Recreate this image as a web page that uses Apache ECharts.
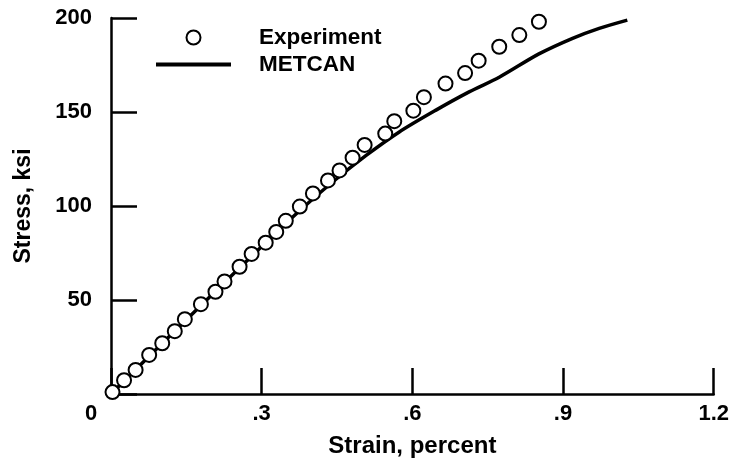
<!DOCTYPE html>
<html>
<head>
<meta charset="utf-8">
<script src="https://cdn.jsdelivr.net/npm/echarts@6/dist/echarts.min.js"></script>
<style>
html,body{margin:0;padding:0;background:#fff;}
#chart{width:732px;height:466px;}
</style>
</head>
<body>
<div id="chart"></div>
<script>
// Experiment data (strain %, stress ksi)
var expStrain = [0.003, 0.026, 0.049, 0.076, 0.102, 0.127, 0.147, 0.179, 0.208, 0.226, 0.256, 0.280, 0.308, 0.329, 0.348, 0.376, 0.402, 0.432, 0.455, 0.481, 0.505, 0.546, 0.564, 0.602, 0.623, 0.666, 0.705, 0.732, 0.773, 0.813, 0.852];
var expStress = [1, 7.3, 12.8, 20.8, 27.0, 33.4, 39.8, 47.8, 54.4, 59.9, 67.7, 74.5, 80.5, 86.2, 92.1, 99.7, 106.7, 113.6, 118.9, 125.7, 132.5, 138.5, 145.1, 150.7, 157.9, 165.1, 170.7, 177.3, 184.7, 190.9, 198.0];
// METCAN prediction
var metStrain = [0, 0.15, 0.30, 0.376, 0.44, 0.508, 0.574, 0.647, 0.713, 0.773, 0.852, 0.919, 0.972, 1.028];
var metStress = [0, 39.5, 78.5, 97.6, 112.5, 126.9, 139.4, 151.0, 160.7, 168.5, 180.9, 189.2, 194.5, 198.9];
// Axis ticks
var xTicks = [0, 0.3, 0.6, 0.9, 1.2];
var xTickLabels = ['0', '.3', '.6', '.9', '1.2'];
var yTicks = [0, 50, 100, 150, 200];
var yTickLabels = ['', '50', '100', '150', '200'];

var FONT = '"Liberation Sans", Arial, Helvetica, sans-serif';

function zip(a, b) { return a.map(function (v, i) { return [v, b[i]]; }); }
function lookup(ticks, labels, v) {
  for (var i = 0; i < ticks.length; i++) if (Math.abs(ticks[i] - v) < 1e-6) return labels[i];
  return '';
}

var chart = echarts.init(document.getElementById('chart'), null, {renderer: 'canvas'});
chart.setOption({
  animation: false,
  backgroundColor: '#fff',
  grid: {left: 111, right: 17, top: 18, bottom: 72, containLabel: false},
  legend: {
    orient: 'vertical',
    left: 151, top: 21,
    itemWidth: 75, itemHeight: 14, itemGap: 4,
    symbolKeepAspect: true,
    textStyle: {fontFamily: FONT, fontWeight: 'bold', fontSize: 22.5, color: '#000', padding: [0, 0, 0, 23]},
    data: [
      {name: 'Experiment'},
      {name: 'METCAN', icon: 'path://M0,0 L75,0 L75,4 L0,4 Z', itemStyle: {color: '#000'}}
    ]
  },
  xAxis: {
    type: 'value', min: 0, max: 1.2, interval: 0.3,
    name: 'Strain, percent', nameLocation: 'middle', nameGap: 40,
    nameTextStyle: {fontFamily: FONT, fontWeight: 'bold', fontSize: 24, color: '#000'},
    axisLine: {show: true, onZero: false, lineStyle: {color: '#000', width: 2.5}},
    axisTick: {show: true, inside: true, length: 26, lineStyle: {color: '#000', width: 2.5}},
    splitLine: {show: false},
    axisLabel: {
      margin: 9, color: '#000', fontFamily: FONT, fontWeight: 'bold', fontSize: 22,
      formatter: function (v) {
        var s = lookup(xTicks, xTickLabels, v);
        return v === 0 ? '{z|' + s + '}' : s;
      },
      rich: {z: {fontFamily: FONT, fontWeight: 'bold', fontSize: 22, color: '#000', padding: [0, 40, 0, 0]}}
    }
  },
  yAxis: {
    type: 'value', min: 0, max: 200, interval: 50,
    name: 'Stress, ksi', nameLocation: 'middle', nameGap: 76,
    nameTextStyle: {fontFamily: FONT, fontWeight: 'bold', fontSize: 23, color: '#000'},
    axisLine: {show: true, onZero: false, lineStyle: {color: '#000', width: 2.5}},
    axisTick: {show: true, inside: true, length: 26, lineStyle: {color: '#000', width: 2.5}},
    splitLine: {show: false},
    axisLabel: {
      margin: 19, color: '#000', fontFamily: FONT, fontWeight: 'bold', fontSize: 22,
      formatter: function (v) { return lookup(yTicks, yTickLabels, v); }
    }
  },
  series: [
    {
      name: 'METCAN', type: 'line', data: zip(metStrain, metStress),
      symbol: 'none', smooth: 0.3, z: 2,
      lineStyle: {color: '#000', width: 3.5},
      itemStyle: {color: '#000'}
    },
    {
      name: 'Experiment', type: 'scatter', data: zip(expStrain, expStress),
      symbol: 'circle', symbolSize: 14, z: 3,
      itemStyle: {color: '#fff', borderColor: '#000', borderWidth: 2, opacity: 1}
    }
  ]
});
</script>
</body>
</html>
